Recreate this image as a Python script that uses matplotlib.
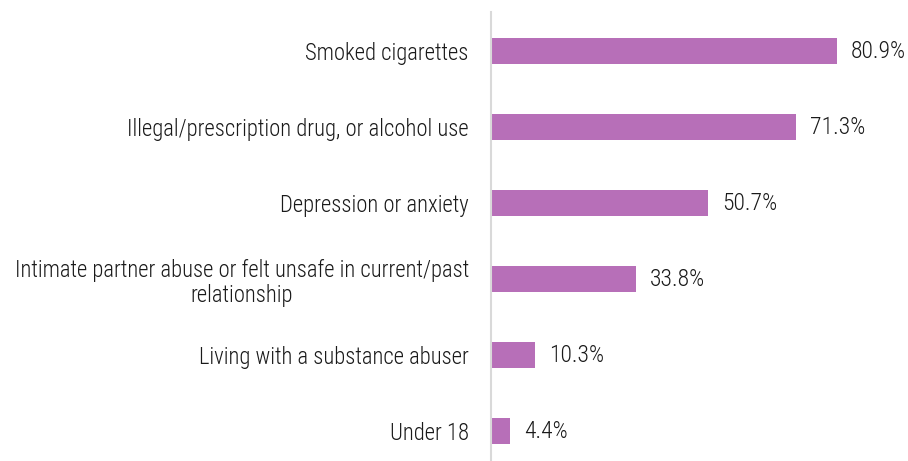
import matplotlib.pyplot as plt

categories = [
    "Smoked cigarettes",
    "Illegal/prescription drug, or alcohol use",
    "Depression or anxiety",
    "Intimate partner abuse or felt unsafe in current/past\nrelationship",
    "Living with a substance abuser",
    "Under 18",
]
values = [80.9, 71.3, 50.7, 33.8, 10.3, 4.4]

plt.rcParams["font.family"] = ["Roboto Condensed", "DejaVu Sans"]
plt.rcParams["font.weight"] = 300

fig = plt.figure(figsize=(9.08, 4.61), dpi=100)
ax = fig.add_axes([491 / 908, 0, 1 - 491 / 908, 1 - 12 / 461])

ypos = list(range(len(categories)))
ax.barh(ypos, values, height=0.34, color="#B76FB8")
for y, v in zip(ypos, values):
    ax.annotate(f"{v}%", (v, y), xytext=(10, 0), textcoords="offset points",
                va="center", ha="left", fontsize=17, color="#1a1a1a", fontweight=300)

ax.set_yticks(ypos)
ax.set_yticklabels(categories, fontsize=16.3, color="#1a1a1a", fontweight=300)
ax.tick_params(axis="y", length=0, pad=16)
for lab in ax.get_yticklabels():
    lab.set_multialignment("center")
    lab.set_linespacing(1.15)

ax.set_xticks([])
ax.set_xlim(0, (908 - 491) / 4.277)
ax.set_ylim(5 + 30 / 76, -39 / 76)
for s in ["top", "right", "bottom"]:
    ax.spines[s].set_visible(False)
ax.spines["left"].set_color("#D9D9D9")
ax.spines["left"].set_linewidth(1.5)

fig.savefig("out.png", dpi=100)
